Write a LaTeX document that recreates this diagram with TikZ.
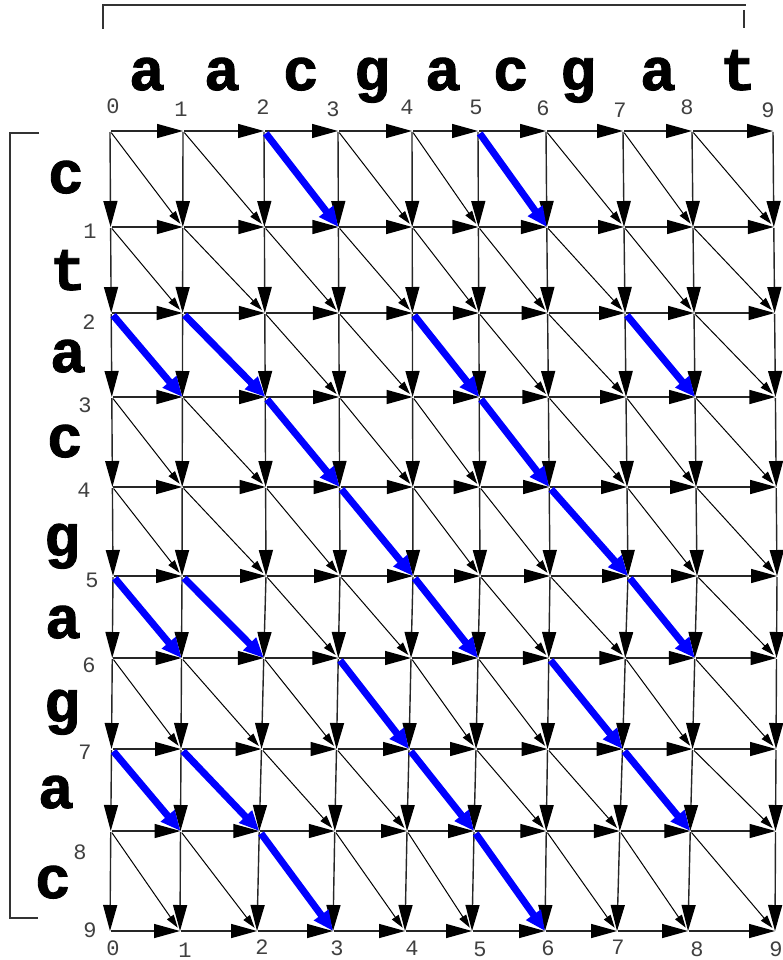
\documentclass[tikz,border=0pt]{standalone}
\usepackage{fontspec}
\newfontfamily\seqfont{Liberation Mono}
\newfontfamily\seqbold[BoldFeatures={FakeBold=1.5}]{Liberation Mono}
\usetikzlibrary{arrows.meta}
\makeatletter
\newcommand\bluelist{,0-2,0-5,2-0,2-1,2-4,2-7,3-2,3-5,4-3,4-6,5-0,5-1,5-4,5-7,6-3,6-6,7-0,7-1,7-4,7-7,8-2,8-5,}
\newcommand\ifbluediag[4]{%
  \edef\bd@tmp{\noexpand\in@{,#1-#2,}{\bluelist}}\bd@tmp
  \ifin@ #3\else #4\fi}
\makeatother
\begin{document}
\begin{tikzpicture}[x=1pt,y=-1pt,
  hv/.style={draw=black!85, line width=1.4pt, -{Triangle[length=26pt,width=14pt,color=black]}, shorten <=1pt},
  dg/.style={draw=black, line width=1pt, -{Triangle[length=13pt,width=8pt]}, shorten <=2pt, shorten >=4pt},
  match/.style={draw=blue, line width=7pt, -{Triangle[length=20pt,width=17pt]}, shorten <=3pt},
  seq/.style={font=\seqbold\bfseries\fontsize{60}{60}\selectfont, anchor=base, inner sep=0pt},
  idx/.style={font=\seqfont\fontsize{22}{22}\selectfont, text=black!75, inner sep=0pt},
  bracket/.style={draw=black!80, line width=1.2pt}]
\useasboundingbox (0,0) rectangle (782,960);
\def\XT{{110,183,264,338,412,478,546,623,692,773}}
\def\XM{{113,182,266,340,413,480,550,628,697,777}}
\def\XB{{110,180,257,333,405,472,545,617,688,775}}
\def\YR{{131,227,313,397,487,576,658,749,831,931}}
% grid points
\foreach \i in {0,...,9}{
  \foreach \j in {0,...,9}{
    \pgfmathsetmacro\xx{\i<=5 ? \XT[\j]+(\XM[\j]-\XT[\j])*\i/5 : \XM[\j]+(\XB[\j]-\XM[\j])*(\i-5)/4}
    \pgfmathsetmacro\yy{\YR[\i]}
    \coordinate (n-\i-\j) at (\xx,\yy);
  }
}
% brackets
\coordinate (bt1) at (103,29); \coordinate (bt2) at (103,5); \coordinate (bt3) at (746,5);
\coordinate (bt4) at (744,10); \coordinate (bt5) at (744,28);
\coordinate (bl1) at (39,133); \coordinate (bl2) at (10,133); \coordinate (bl3) at (10,918); \coordinate (bl4) at (38,918);
\draw[bracket] (bt1) -- (bt2) -- (bt3);
\draw[bracket] (bt4) -- (bt5);
\draw[bracket] (bl1) -- (bl2) -- (bl3) -- (bl4);
% horizontal and vertical edges
\foreach \i in {0,...,9}{
  \foreach \j [evaluate=\j as \k using int(\j+1)] in {0,...,8}{
    \draw[hv] (n-\i-\j) -- (n-\i-\k);
    \draw[hv] (n-\j-\i) -- (n-\k-\i);
  }
}
% diagonal edges
\foreach \i [evaluate=\i as \ii using int(\i+1)] in {0,...,8}{
  \foreach \j [evaluate=\j as \jj using int(\j+1)] in {0,...,8}{
    \ifbluediag{\i}{\j}{}{\draw[dg] (n-\i-\j) -- (n-\ii-\jj);}
  }
}
\foreach \i [evaluate=\i as \ii using int(\i+1)] in {0,...,8}{
  \foreach \j [evaluate=\j as \jj using int(\j+1)] in {0,...,8}{
    \ifbluediag{\i}{\j}{\draw[match] (n-\i-\j) -- (n-\ii-\jj);}{}
  }
}
% sequences
\foreach \c/\x [count=\n] in {a/147,a/222,c/301,g/372,a/443,c/511,g/578,a/658,t/738}
  \node[seq] (top\n) at (\x,90) {\c};
\foreach \c/\x/\y [count=\n] in {c/66/193,t/68/290,a/68/372,c/65/457,g/62/556,a/63/638,g/62/722,a/56/808,c/53/898}
  \node[seq] (left\n) at (\x,\y) {\c};
% indices
\foreach \x/\y [count=\n from 0] in {113/106,181/109,263/107,333/109,407/107,476/107,543/108,620/110,687/107,768/110}
  \node[idx] (ti\n) at (\x,\y) {\n};
\foreach \x/\y [count=\n from 1] in {90/231,89/322,85/405,84/490,92/580,89/665,85/752,80/852,90/930}
  \node[idx] (li\n) at (\x,\y) {\n};
\foreach \x/\y [count=\n from 0] in {113/948,185/950,262/947,337/948,412/948,480/949,548/948,618/947,697/949,776/949}
  \node[idx] (bi\n) at (\x,\y) {\n};
\end{tikzpicture}
\end{document}
